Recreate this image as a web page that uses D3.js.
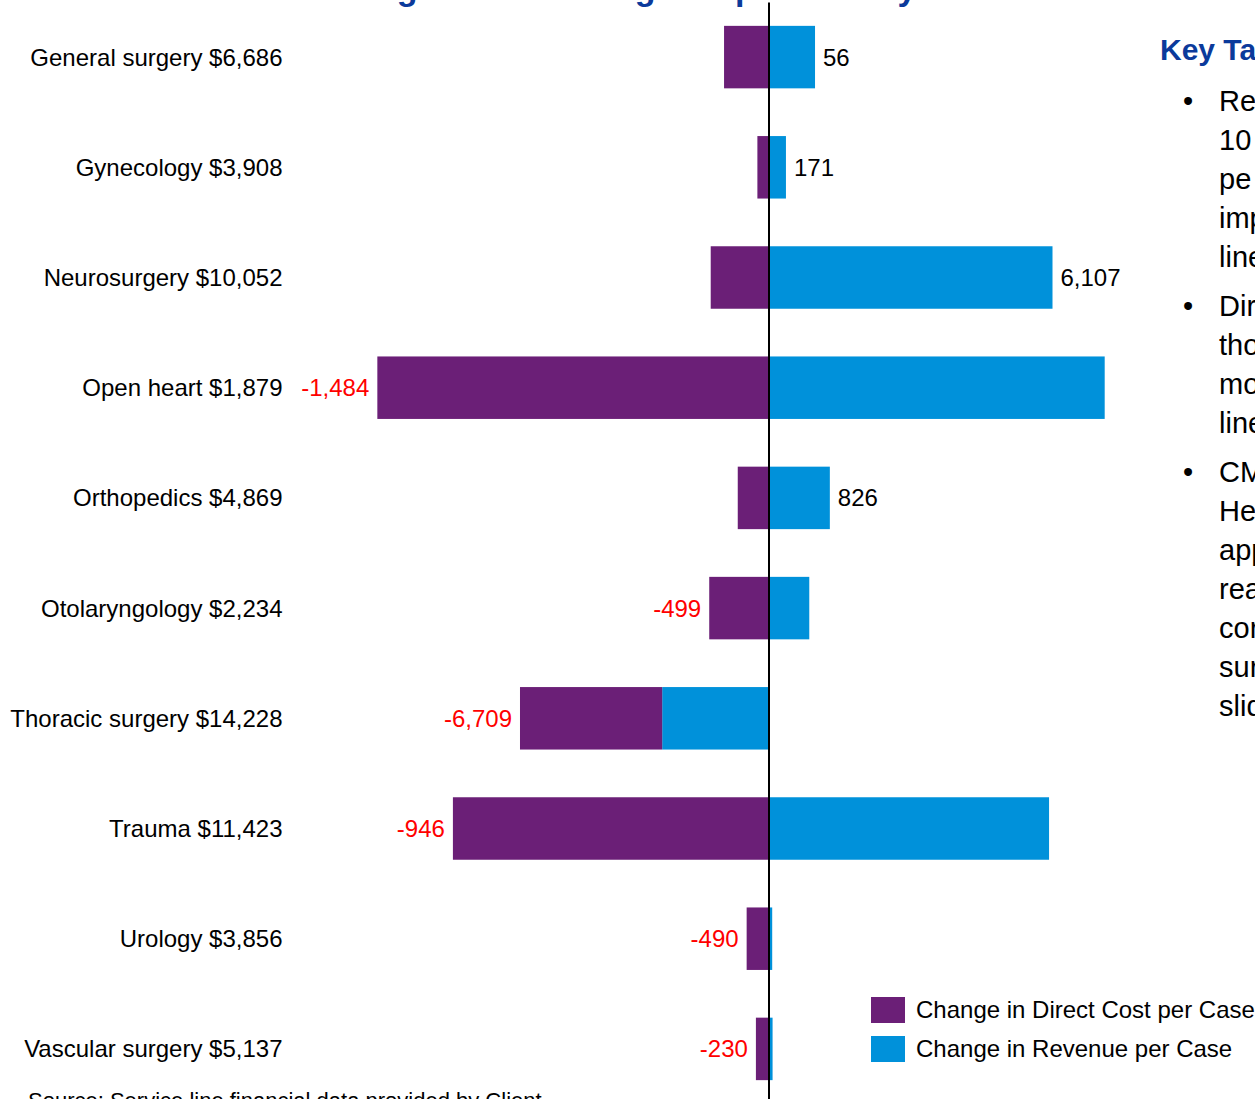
<!DOCTYPE html>
<html>
<head>
<meta charset="utf-8">
<script src="https://cdn.jsdelivr.net/npm/d3@7"></script>
<style>
  body { margin: 0; overflow: hidden; background: #fff; }
  text { font-family: "Liberation Sans", Arial, sans-serif; }
</style>
</head>
<body>
<div class="svg_container"></div>
<script>
// service lines and their cost per case (shown in the row labels)
var categories = ["General surgery", "Gynecology", "Neurosurgery", "Open heart", "Orthopedics",
  "Otolaryngology", "Thoracic surgery", "Trauma", "Urology", "Vascular surgery"];
var costPerCase = [6686, 3908, 10052, 1879, 4869, 2234, 14228, 11423, 3856, 5137];

// change in direct cost per case (an increase cuts margin, drawn to the left)
var costChange = [1200, 300, 1560, 10560, 830, 1600, 3839, 8520, 590, 340];
// change in revenue per case
var revenueChange = [1256, 471, 7667, 9076, 1656, 1101, -2870, 7574, 100, 110];

var seriesNames = ["Change in Direct Cost per Case", "Change in Revenue per Case"];
var colors = { cost: "#6b1f77", revenue: "#0091da" };

var takeaways = [
  ["Revenue per case rose in", "10 of the surgical service", "pe  case terms, with", "improved margins in most", "lines"],
  ["Direct costs rose fastest in", "those service lines with", "most complex cases in all", "lines"],
  ["CMS payment reform and", "Health reform are being", "applied to penalize", "readmissions and other", "core quality gaps across", "surgical lines (see next", "slide)"]
];

var width = 1255, height = 1099;

var fmt = d3.formatLocale({ decimal: ".", thousands: ",", grouping: [3], currency: ["$", ""], minus: "-" });
var num = fmt.format(","), dollars = fmt.format("$,");

var svg = d3.select(".svg_container").append("svg")
  .attr("width", width)
  .attr("height", height);

// build rows for the stack
var rows = categories.map(function(c, i) {
  return { cat: c, revenue: revenueChange[i], cost: -costChange[i], net: revenueChange[i] - costChange[i] };
});

var stack = d3.stack()
  .keys(["revenue", "cost"])
  .offset(d3.stackOffsetDiverging);
var layers = stack(rows);

// scales
var x = d3.scaleLinear()
  .domain([-12000, 12000])
  .range([324, 1213]);
var y = d3.scaleBand()
  .domain(categories)
  .range([2, 1104])
  .paddingInner(0.433)
  .paddingOuter(0.2165);

// title (sits above the visible area, only descenders show)
svg.append("text")
  .attr("x", 340)
  .attr("y", -0.5)
  .attr("font-size", 34)
  .attr("font-weight", "bold")
  .attr("fill", "#0b3a9b")
  .text("Surgical Case Margin Impact of Payment Reform");

// bars
svg.selectAll(".layer")
  .data(layers)
  .enter().append("g")
  .attr("class", "layer")
  .attr("fill", function(d) { return colors[d.key]; })
  .selectAll("rect")
  .data(function(d) { return d; })
  .enter().append("rect")
  .attr("x", function(d) { return x(d[0]); })
  .attr("width", function(d) { return x(d[1]) - x(d[0]); })
  .attr("y", function(d) { return y(d.data.cat); })
  .attr("height", y.bandwidth());

// zero line
svg.append("g")
  .attr("transform", "translate(" + x(0) + ",0)")
  .call(d3.axisLeft(y).tickSize(0).tickFormat(""))
  .call(function(g) { g.select(".domain").attr("stroke", "#000").attr("stroke-width", 2); });

// row labels
svg.selectAll(".cat")
  .data(categories)
  .enter().append("text")
  .attr("class", "cat")
  .attr("x", 282.5)
  .attr("y", function(d) { return y(d) + y.bandwidth() / 2; })
  .attr("dy", "0.35em")
  .attr("text-anchor", "end")
  .attr("font-size", 24)
  .attr("fill", "#000")
  .text(function(d, i) { return d + " " + dollars(costPerCase[i]); });

// net margin labels
svg.selectAll(".net")
  .data(rows)
  .enter().append("text")
  .attr("class", "net")
  .attr("x", function(d, i) {
    var lo = d3.min(layers, function(l) { return l[i][0]; });
    var hi = d3.max(layers, function(l) { return l[i][1]; });
    return d.net < 0 ? x(lo) - 8 : x(hi) + 8;
  })
  .attr("y", function(d) { return y(d.cat) + y.bandwidth() / 2; })
  .attr("dy", "0.35em")
  .attr("text-anchor", function(d) { return d.net < 0 ? "end" : "start"; })
  .attr("font-size", 24)
  .attr("fill", function(d) { return d.net < 0 ? "#ff0000" : "#000"; })
  .text(function(d) { return num(d.net); });

// legend
var legend = svg.selectAll(".legend")
  .data(seriesNames)
  .enter().append("g")
  .attr("class", "legend")
  .attr("transform", function(d, i) { return "translate(871," + (997 + i * 39) + ")"; });
legend.append("rect")
  .attr("width", 34)
  .attr("height", 26)
  .attr("fill", function(d, i) { return i === 0 ? colors.cost : colors.revenue; });
legend.append("text")
  .attr("x", 45)
  .attr("y", 13)
  .attr("dy", "0.35em")
  .attr("font-size", 24)
  .text(function(d) { return d; });

// key takeaways panel (runs off the right edge)
svg.append("text")
  .attr("x", 1160)
  .attr("y", 59.5)
  .attr("font-size", 30)
  .attr("font-weight", "bold")
  .attr("fill", "#0b3a9b")
  .text("Key Takeaways");

var lineH = 39, gap = 10, by = 111;
takeaways.forEach(function(lines) {
  svg.append("text")
    .attr("x", 1183)
    .attr("y", by)
    .attr("font-size", 29)
    .text("\u2022");
  var t = svg.append("text")
    .attr("font-size", 29)
    .attr("fill", "#000")
    .attr("xml:space", "preserve");
  t.selectAll("tspan")
    .data(lines)
    .enter().append("tspan")
    .attr("x", 1219)
    .attr("y", function(d, j) { return by + j * lineH; })
    .text(function(d) { return d; });
  by += lines.length * lineH + gap;
});

// source note
svg.append("text")
  .attr("x", 28)
  .attr("y", 1108)
  .attr("font-size", 22)
  .text("Source: Service line financial data provided by Client");
</script>
</body>
</html>
